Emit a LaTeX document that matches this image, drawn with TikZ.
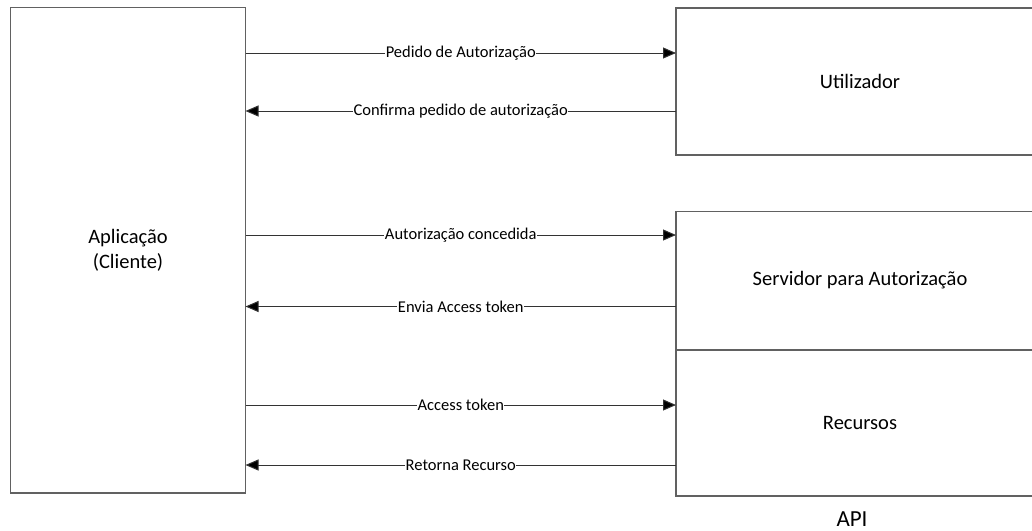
\documentclass[tikz,border=0pt]{standalone}
\usepackage{fontspec}
\setmainfont{Carlito}
\usetikzlibrary{arrows.meta}
\begin{document}
\begin{tikzpicture}[x=1pt,y=-1pt,
  block/.style={draw=black!62, line width=1.6pt, fill=white, inner sep=0pt, outer sep=0pt,
    align=center, font=\fontsize{20.5}{25}\selectfont},
  msg/.style={draw=black!80, line width=1pt, -{Triangle[length=13pt,width=11pt,fill=black]}},
  msglabel/.style={fill=white, inner sep=0.5pt, font=\fontsize{16.5}{19}\selectfont}
]
\useasboundingbox (0,0) rectangle (1032,530);
\clip (0,0) rectangle (1032,530);

% participants
\node[block, minimum width=235pt, minimum height=485.5pt] (app) at (128,250.25)
  {Aplicação\\(Cliente)};
\node[block, minimum width=368pt, minimum height=147pt] (user) at (860,81.5) {Utilizador};
\node[block, minimum width=368pt, minimum height=138pt] (auth) at (860,280.5)
  {Servidor para Autorização};
\node[block, minimum width=368pt, minimum height=146pt] (res) at (860,423) {Recursos};
\node[font=\fontsize{23}{27}\selectfont, inner sep=0pt, anchor=base] (api) at (852,526) {API};

% message rows
\coordinate (r1) at (0,53);
\coordinate (r2) at (0,111);
\coordinate (r3) at (0,235);
\coordinate (r4) at (0,306.5);
\coordinate (r5) at (0,405);
\coordinate (r6) at (0,465);

\draw[msg] (app.east |- r1) -- node[msglabel] {Pedido de Autorização} (user.west |- r1);
\draw[msg] (user.west |- r2) -- node[msglabel] {Confirma pedido de autorização} (app.east |- r2);
\draw[msg] (app.east |- r3) -- node[msglabel] {Autorização concedida} (auth.west |- r3);
\draw[msg] (auth.west |- r4) -- node[msglabel] {Envia Access token} (app.east |- r4);
\draw[msg] (app.east |- r5) -- node[msglabel] {Access token} (res.west |- r5);
\draw[msg] (res.west |- r6) -- node[msglabel] {Retorna Recurso} (app.east |- r6);
\end{tikzpicture}
\end{document}
